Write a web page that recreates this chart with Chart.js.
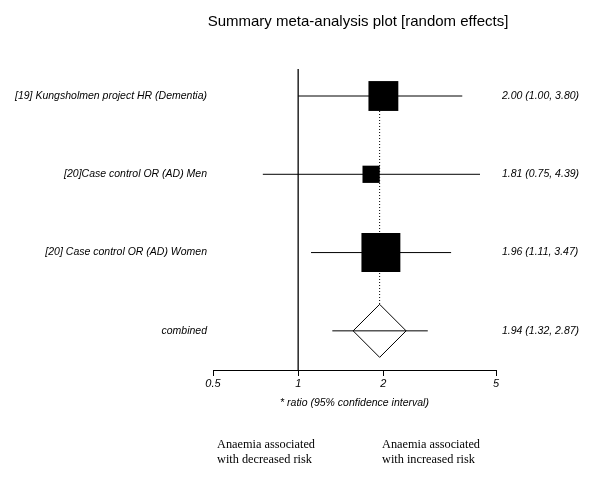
<!DOCTYPE html>
<html>
<head>
<meta charset="utf-8">
<script src="https://cdn.jsdelivr.net/npm/chart.js@4"></script>
<style>
html,body{margin:0;padding:0;background:#fff;}
#wrap{width:600px;height:484px;position:relative;}
</style>
</head>
<body>
<div id="wrap"><canvas id="c" width="600" height="484"></canvas></div>
<script>
// ---- data ----
const chartTitle = "Summary meta-analysis plot [random effects]";
const studies = ["[19] Kungsholmen project HR (Dementia)", "[20]Case control OR (AD) Men", "[20] Case control OR (AD) Women"];
const estimates = [2.00, 1.81, 1.96];
const lowerCI = [1.00, 0.75, 1.11];
const upperCI = [3.80, 4.39, 3.47];
const weights = [33, 11, 56]; // % weight
const pooledLabel = "combined";
const pooledEstimate = 1.94;
const pooledLower = 1.32;
const pooledUpper = 2.87;
const tickValues = [0.5, 1, 2, 5];
const tickLabels = ["0.5", "1", "2", "5"];
const axisTitle = "* ratio (95% confidence interval)";
const leftNote = ["Anaemia associated", "with decreased risk"];
const rightNote = ["Anaemia associated", "with increased risk"];

const fmt = v => v.toFixed(2);
const rowsY = studies.map((_, i) => i);
const pooledY = studies.length;
const Y_MIN = -0.345, Y_MAX = 3.5;

const SANS = "'Liberation Sans', Arial, sans-serif";
const SERIF = "'Liberation Serif', 'Times New Roman', serif";

const ds = [];
// null line at ratio 1
ds.push({data:[{x:1,y:Y_MIN},{x:1,y:Y_MAX}], showLine:true, borderColor:'#333', borderWidth:1.6, pointRadius:0, order:6, clip:false});
// dotted line at pooled estimate
ds.push({data:[{x:pooledEstimate,y:rowsY[0]},{x:pooledEstimate,y:pooledY}], showLine:true, borderColor:'#000', borderWidth:1, borderDash:[1,2], pointRadius:0, order:5, clip:false});
// CI lines
studies.forEach((s, i) => {
  ds.push({data:[{x:lowerCI[i],y:rowsY[i]},{x:upperCI[i],y:rowsY[i]}], showLine:true, borderColor:'#000', borderWidth:1, pointRadius:0, order:4, clip:false});
});
// squares
ds.push({data: estimates.map((e, i) => ({x:e, y:rowsY[i]})), pointStyle:'rect',
  pointRadius: weights.map(w => 5.2 * Math.sqrt(w) / Math.SQRT2),
  pointBackgroundColor:'#000', pointBorderColor:'#000', pointBorderWidth:0, order:3, clip:false});
// diamond
ds.push({data:[{x:pooledEstimate,y:pooledY}], pointStyle:'rectRot', pointRadius:26.5,
  pointBackgroundColor:'#fff', pointBorderColor:'#000', pointBorderWidth:1, order:2, clip:false});
// pooled CI line
ds.push({data:[{x:pooledLower,y:pooledY},{x:pooledUpper,y:pooledY}], showLine:true, borderColor:'#000', borderWidth:1, pointRadius:0, order:1, clip:false});

const textPlugin = {
  id:'texts',
  afterDraw(chart){
    const ctx = chart.ctx, xs = chart.scales.x, ys = chart.scales.y, area = chart.chartArea;
    ctx.save();
    ctx.fillStyle = '#000';
    // title
    ctx.font = "15px " + SANS;
    ctx.textAlign = 'center'; ctx.textBaseline = 'middle';
    ctx.fillText(chartTitle, 358, 22);
    // row labels
    ctx.font = "italic 10.5px " + SANS;
    const allLabels = studies.concat([pooledLabel]);
    const allY = rowsY.concat([pooledY]);
    const allText = estimates.map((e,i)=>`${fmt(e)} (${fmt(lowerCI[i])}, ${fmt(upperCI[i])})`)
      .concat([`${fmt(pooledEstimate)} (${fmt(pooledLower)}, ${fmt(pooledUpper)})`]);
    allLabels.forEach((l, i) => {
      const py = ys.getPixelForValue(allY[i]);
      ctx.textAlign = 'right';
      ctx.fillText(l, area.left - 6, py);
      ctx.textAlign = 'left';
      ctx.fillText(allText[i], area.right + 6, py);
    });
    // axis title
    ctx.font = "italic 10.5px " + SANS;
    ctx.textAlign = 'center';
    ctx.fillText(axisTitle, (area.left + area.right) / 2, area.bottom + 33);
    // notes
    ctx.font = "12.3px " + SERIF;
    ctx.textAlign = 'left';
    leftNote.forEach((t, i) => ctx.fillText(t, 217, 445 + i * 14.5));
    rightNote.forEach((t, i) => ctx.fillText(t, 382, 445 + i * 14.5));
    ctx.restore();
  }
};

new Chart(document.getElementById('c'), {
  type:'scatter',
  data:{datasets:ds},
  options:{
    responsive:false, devicePixelRatio:1, animation:false, events:[],
    layout:{padding:{left:213, right:104, top:69, bottom:0}},
    plugins:{legend:{display:false}, tooltip:{enabled:false}, title:{display:false}},
    scales:{
      x:{type:'logarithmic', min:0.5, max:5,
        afterBuildTicks: s => { s.ticks = tickValues.map(v => ({value:v})); },
        afterFit: s => { s.height = 114; },
        ticks:{autoSkip:false, maxRotation:0, padding:1, color:'#000',
          font:{family:SANS, style:'italic', size:11},
          callback: (v) => { const i = tickValues.indexOf(v); return i >= 0 ? tickLabels[i] : ''; }},
        grid:{display:true, drawOnChartArea:false, drawTicks:true, tickLength:6, color:'#000', lineWidth:1},
        border:{display:true, color:'#000', width:1}
      },
      y:{type:'linear', display:false, reverse:true, min:Y_MIN, max:Y_MAX}
    }
  },
  plugins:[textPlugin]
});
</script>
</body>
</html>
